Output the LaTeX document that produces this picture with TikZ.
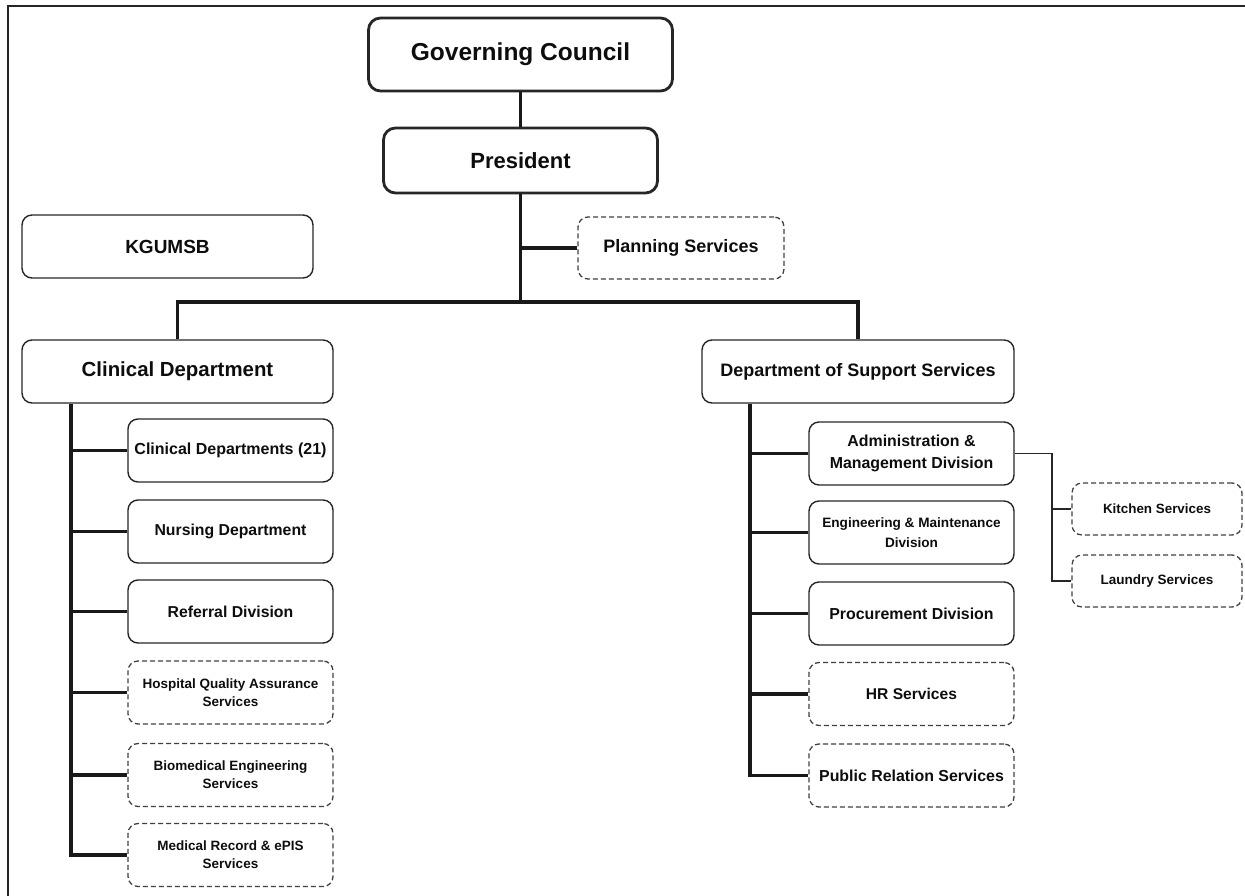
\documentclass[tikz,border=0pt]{standalone}
\usepackage{fontspec}
\setmainfont{Liberation Sans}
\begin{document}
\begin{tikzpicture}[x=1pt,y=-1pt,
  box/.style={draw=black!85, line width=1.4pt, rounded corners=10pt,
    align=center, inner sep=0pt, text=black!95},
  topbox/.style={box, line width=2.8pt, rounded corners=12pt},
  dashbox/.style={box, draw=black!75, line width=1.3pt, dash pattern=on 5pt off 3pt},
  conn/.style={draw=black!90, line width=3.2pt},
  thinconn/.style={draw=black!85, line width=1.6pt},
  frame/.style={draw=black!85, line width=2pt},
  sz/.style={font={\fontsize{#1}{20}\selectfont\bfseries}},
  childsize/.style={minimum width=205pt, minimum height=63pt}
]
\useasboundingbox (0,0) rectangle (1245,896);
% outer frame (left and top edges)
\draw[frame] (8,896) -- (8,6) -- (1245,6);

% top level
\node[topbox, sz=24.5, minimum width=304pt, minimum height=73pt] (gov) at (520.5,54.5) {Governing Council};
\node[topbox, sz=22, minimum width=274pt, minimum height=65pt] (pres) at (520.5,160.5) {President};
\node[box, sz=19, minimum width=291pt, minimum height=63pt] (kgu) at (167.5,246.5) {KGUMSB};
\node[dashbox, sz=18, minimum width=206pt, minimum height=62pt] (plan) at (681,248) {Planning Services};

% departments
\node[box, sz=20.4, minimum width=311pt, minimum height=63pt] (clin) at (177.5,371.5) {Clinical Department};
\node[box, sz=18, minimum width=312pt, minimum height=63pt] (dss) at (858,371.5) {Department of Support Services};

% clinical units
\node[box, childsize, sz=16] (cd) at (230.5,450.5) {Clinical Departments (21)};
\node[box, childsize, sz=15.8] (nurse) at (230.5,531.5) {Nursing Department};
\node[box, childsize, sz=15.8] (refer) at (230.5,611.5) {Referral Division};
\node[dashbox, childsize, font={\fontsize{13.5}{18}\selectfont\bfseries}] (hqa) at (230.5,692.5) {Hospital Quality Assurance\\Services};
\node[dashbox, childsize, font={\fontsize{13.5}{18}\selectfont\bfseries}] (bio) at (230.5,775) {Biomedical Engineering\\Services};
\node[dashbox, childsize, font={\fontsize{13.5}{18}\selectfont\bfseries}] (med) at (230.5,855) {Medical Record \& ePIS\\Services};

% support units
\node[box, childsize, font={\fontsize{15.9}{22}\selectfont\bfseries}] (admin) at (911.5,453.5) {Administration \&\\Management Division};
\node[box, childsize, font={\fontsize{13.6}{20}\selectfont\bfseries}] (eng) at (911.5,532.5) {Engineering \& Maintenance\\Division};
\node[box, childsize, sz=15.9] (proc) at (911.5,613.5) {Procurement Division};
\node[dashbox, childsize, sz=15.6] (hr) at (911.5,694) {HR Services};
\node[dashbox, childsize, sz=15.9] (pr) at (911.5,775.5) {Public Relation Services};

% services under administration
\node[dashbox, sz=13.4, minimum width=170pt, minimum height=52pt] (kit) at (1157,509) {Kitchen Services};
\node[dashbox, sz=13.5, minimum width=170pt, minimum height=52pt] (laun) at (1157,581) {Laundry Services};

% helper coordinates for buses and spines
\coordinate (bus) at (0,302);
\coordinate (cspine) at (71,0);
\coordinate (sspine) at (750,0);
\coordinate (kspine) at (1052,0);

% top connectors
\draw[conn] (gov.south) -- (pres.north);
\draw[conn] (pres.south) -- (pres.south |- bus);
\draw[conn] (plan.west) -- (plan.west -| pres.south);
\draw[conn, line join=miter] (clin.north) |- (pres.south |- bus) -| (dss.north);

% clinical spine
\draw[conn, line join=miter] (clin.south -| cspine) |- (med.west);
\foreach \n in {cd,nurse,refer,hqa,bio}
  \draw[conn] (\n.west) -- (\n.west -| cspine);

% support spine
\draw[conn, line join=miter] (dss.south -| sspine) |- (pr.west);
\foreach \n in {admin,eng,proc,hr}
  \draw[conn] (\n.west) -- (\n.west -| sspine);

% administration branch
\draw[thinconn] (admin.east) -- (admin.east -| kspine) |- (laun.west);
\draw[thinconn] (kit.west) -- (kit.west -| kspine);
\end{tikzpicture}
\end{document}
